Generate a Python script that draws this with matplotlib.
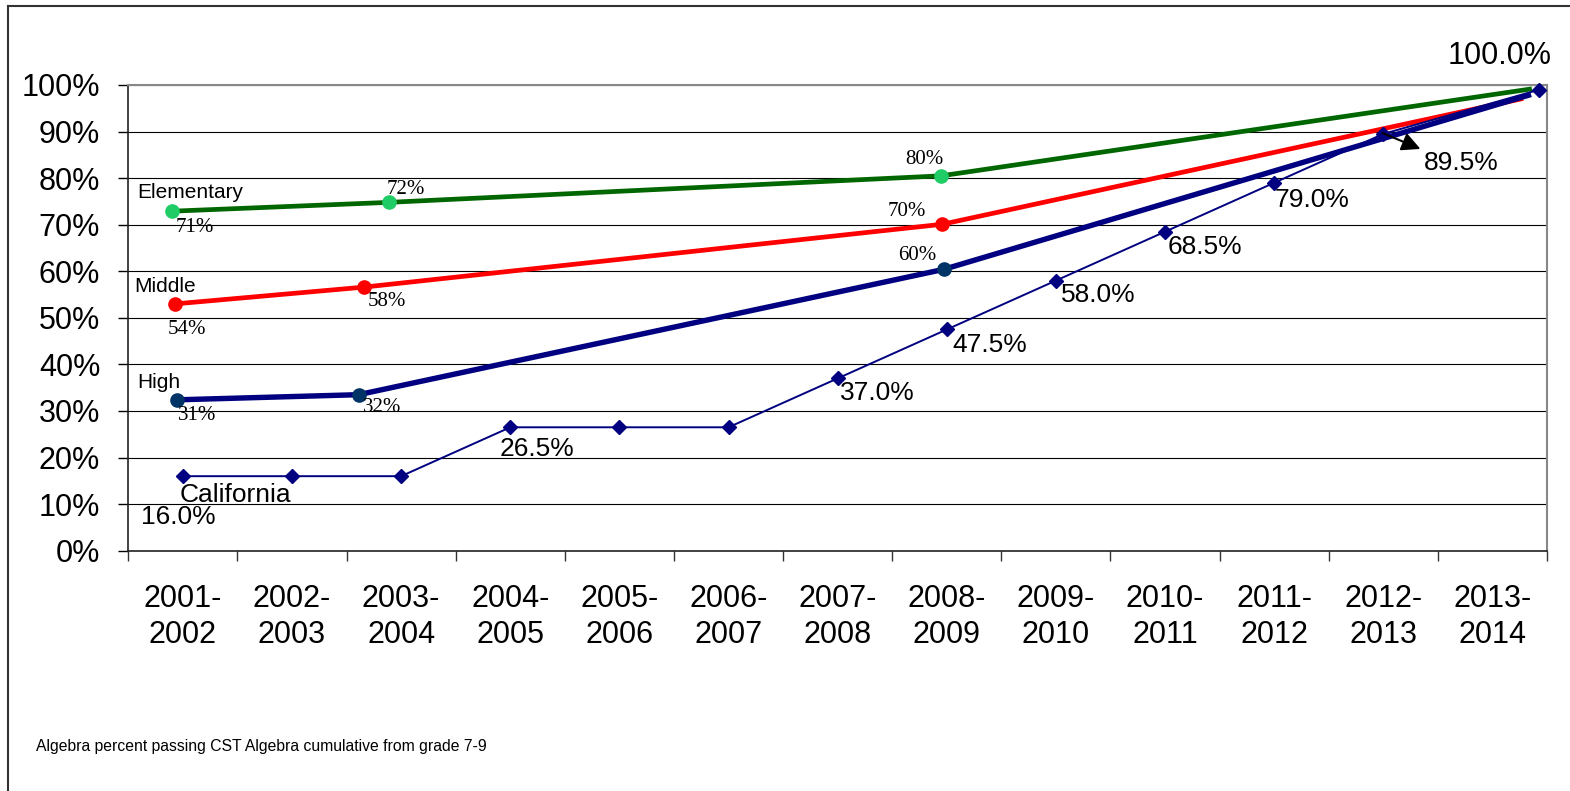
import numpy as np
import matplotlib.pyplot as plt
from matplotlib.patches import Rectangle
from matplotlib.lines import Line2D
from matplotlib import font_manager

years = ['2001-\n2002', '2002-\n2003', '2003-\n2004', '2004-\n2005', '2005-\n2006',
         '2006-\n2007', '2007-\n2008', '2008-\n2009', '2009-\n2010', '2010-\n2011',
         '2011-\n2012', '2012-\n2013', '2013-\n2014']

# California target line (category positions, last point drawn past the centre)
ca_x = [0, 1, 2, 3, 4, 5, 6, 7, 8, 9, 10, 11, 12.43]
ca_values = [16.0, 16.0, 16.0, 26.5, 26.5, 26.5, 37.0, 47.5, 58.0, 68.5, 79.0, 89.5, 99.0]
ca_labels = ['16.0%', None, None, '26.5%', None, None, '37.0%', '47.5%',
             '58.0%', '68.5%', '79.0%', '89.5%', '100.0%']

# district series, plotted on their own positions
elem_x = [-0.10, 1.89, 6.95, 12.34]
elem_values = [72.9, 74.8, 80.5, 99.1]
elem_labels = ['71%', '72%', '80%', None]

mid_x = [-0.07, 1.66, 6.96, 12.26]
mid_values = [53.0, 56.6, 70.1, 97.0]
mid_labels = ['54%', '58%', '70%', None]

high_x = [-0.05, 1.61, 6.97, 12.33]
high_values = [32.4, 33.5, 60.4, 97.8]
high_labels = ['31%', '32%', '60%', None]

W, H = 1570, 791
fig = plt.figure(figsize=(W / 100, H / 100), dpi=100)
ax = fig.add_axes([128.3 / W, 1 - 550.7 / H, (1547 - 128.3) / W, (550.7 - 85) / H])

sans = 'Liberation Sans'
serif = 'Liberation Serif'

ax.set_xlim(-0.5, 12.5)
ax.set_ylim(0, 100)
ax.set_yticks(np.arange(0, 101, 10))
ax.set_yticklabels([f'{v}%' for v in range(0, 101, 10)], fontsize=22, family=sans)
ax.tick_params(axis='y', direction='out', length=7.2, width=1, pad=13, colors='black')
ax.set_xticks(range(len(years)))
ax.set_xticklabels(years, fontsize=22, family=sans, linespacing=1.25)
ax.set_xticks(np.arange(-0.5, 12.6, 1), minor=True)
ax.tick_params(axis='x', which='major', length=0, pad=24)
ax.tick_params(axis='x', which='minor', direction='out', length=7.2, width=1, color='#333333')
ax.grid(axis='y', color='black', linewidth=0.8)
ax.set_axisbelow(True)
for s in ['top', 'right']:
    ax.spines[s].set_color('#888888')
    ax.spines[s].set_linewidth(1.5)
for s in ['left', 'bottom']:
    ax.spines[s].set_color('#222222')
    ax.spines[s].set_linewidth(1.2)

ax.plot(elem_x, elem_values, color='#006600', lw=3.4, zorder=3)
ax.plot(elem_x[:3], elem_values[:3], 'o', color='#1fcc66', ms=9.5, zorder=4)
ax.plot(mid_x, mid_values, color='#ff0000', lw=3.4, zorder=3)
ax.plot(mid_x[:3], mid_values[:3], 'o', color='#ff0000', ms=9.5, zorder=4)
ax.plot(high_x, high_values, color='#000080', lw=3.9, zorder=3)
ax.plot(high_x[:3], high_values[:3], 'o', color='#003366', ms=9.5, zorder=4)
ax.plot(ca_x, ca_values, color='#000080', lw=1.4, marker='D', ms=7,
        markerfacecolor='#000080', markeredgecolor='#000080', zorder=5, clip_on=False)

# offsets in display pixels converted to data units
def px2data(px, py):
    inv = ax.transData.inverted()
    return inv.transform((px, H - py))

# California value labels
ca_pos = [(178, 517), None, None, (537, 449), None, None, (877, 393), (990, 345),
          (1098, 295), (1205, 247), (1312, 200), (1461, 163), (1500, 56)]
for lab, p in zip(ca_labels, ca_pos):
    if lab is None:
        continue
    x, y = px2data(*p)
    ax.text(x, y, lab, fontsize=22 if lab == '100.0%' else 19, family=sans,
            ha='center', va='center', clip_on=False, zorder=6)

# clipped "California" label
x, y = px2data(180, 495)
t = ax.text(x, y, 'California', fontsize=19, family=sans, ha='left', va='center', zorder=6)
cx0, cy0 = px2data(170, 501)
cx1, cy1 = px2data(330, 470)
t.set_clip_path(Rectangle((cx0, cy0), cx1 - cx0, cy1 - cy0, transform=ax.transData))

# arrow to 89.5%
ax.annotate('', xy=px2data(1423, 150), xytext=px2data(1380, 132),
            arrowprops=dict(arrowstyle='-|>', color='black', lw=1.5, mutation_scale=28),
            zorder=7)

# district labels (Times style)
dist_pos = [(195, 227), (406, 190), (924, 159),
            (187, 329), (387, 302), (907, 211),
            (197, 415), (382, 408), (917, 256)]
dist_labels = [l for l in elem_labels + mid_labels + high_labels if l is not None]
for lab, p in zip(dist_labels, dist_pos):
    x, y = px2data(*p)
    ax.text(x, y, lab, fontsize=15, family=serif, ha='center', va='center', zorder=6)

for name, p in [('Elementary', (137, 193)), ('Middle', (134, 287)), ('High', (137, 383))]:
    x, y = px2data(*p)
    ax.text(x, y, name, fontsize=15, family=sans, ha='left', va='center', zorder=6)

# caption: narrow face if installed, otherwise regular at a smaller size
names = {f.name for f in font_manager.fontManager.ttflist}
if 'Liberation Sans Narrow' in names:
    cap_family, cap_size = 'Liberation Sans Narrow', 13.5
else:
    cap_family, cap_size = sans, 11.3
fig.text(36 / W, 1 - 747 / H, 'Algebra percent passing CST Algebra cumulative from grade 7-9',
         fontsize=cap_size, family=cap_family, ha='left', va='center')

# outer frame (left and top edges)
fig.add_artist(Line2D([8 / W, 8 / W], [0, 1 - 6 / H], color='#333333', lw=1.5))
fig.add_artist(Line2D([8 / W, 1], [1 - 6 / H, 1 - 6 / H], color='#333333', lw=1.5))

fig.savefig('out.png', dpi=100)
